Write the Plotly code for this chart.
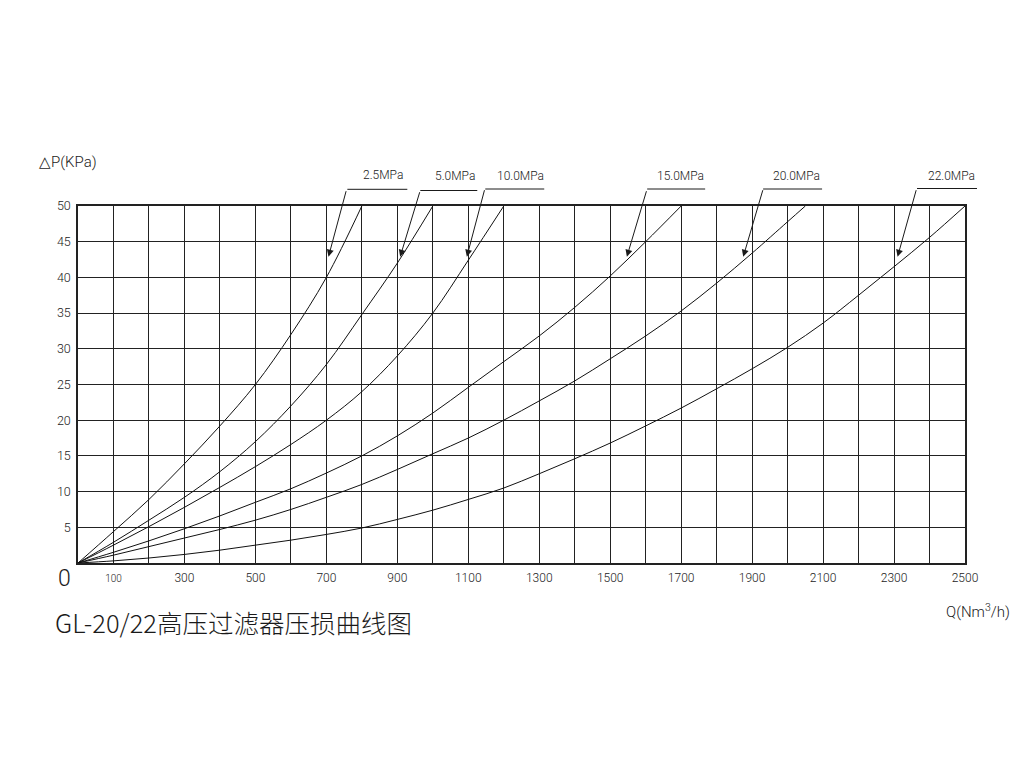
import plotly.graph_objects as go

# ---- data ----
series_names = ["2.5MPa", "5.0MPa", "10.0MPa", "15.0MPa", "20.0MPa", "22.0MPa"]

q_25 = [0, 100, 200, 300, 400, 500, 600, 700, 800]
dp_25 = [0, 4.4, 8.9, 13.9, 19.2, 25.0, 32.0, 40.0, 50.0]

q_50 = [0, 100, 200, 300, 400, 500, 600, 700, 800, 900, 1000]
dp_50 = [0, 2.9, 6.0, 9.2, 12.8, 17.0, 22.0, 27.8, 34.8, 42.0, 50.0]

q_100 = [0, 100, 200, 300, 400, 500, 600, 700, 800, 900, 1000, 1100, 1200]
dp_100 = [0, 2.5, 5.1, 7.8, 10.6, 13.5, 16.6, 20.0, 24.0, 29.0, 35.0, 42.4, 50.0]

q_150 = [0, 100, 200, 300, 400, 500, 600, 700, 800, 900, 1000, 1100, 1200,
         1300, 1400, 1500, 1600, 1700]
dp_150 = [0, 1.5, 3.1, 4.8, 6.6, 8.5, 10.4, 12.6, 15.0, 17.8, 21.0, 24.6, 28.2,
          31.8, 35.8, 40.2, 45.0, 50.0]

q_200 = [0, 100, 200, 300, 400, 500, 600, 700, 800, 900, 1000, 1100, 1200,
         1300, 1400, 1500, 1600, 1700, 1800, 1900, 2000, 2050]
dp_200 = [0, 1.1, 2.3, 3.5, 4.7, 6.0, 7.5, 9.2, 11.0, 13.1, 15.3, 17.5, 20.0,
          22.7, 25.5, 28.6, 31.8, 35.3, 39.2, 43.4, 47.8, 50.0]

q_220 = [0, 100, 200, 300, 400, 500, 600, 700, 800, 900, 1000, 1100, 1200,
         1300, 1400, 1500, 1600, 1700, 1800, 1900, 2000, 2100, 2200, 2300,
         2400, 2500]
dp_220 = [0, 0.3, 0.7, 1.2, 1.8, 2.5, 3.2, 4.0, 4.9, 6.1, 7.4, 8.9, 10.5,
          12.5, 14.6, 16.8, 19.2, 21.7, 24.4, 27.2, 30.2, 33.6, 37.5, 41.5,
          45.6, 50.0]

x_tick_vals = list(range(100, 2501, 100))
x_tick_labels = ["<span style='font-size:10px'>100</span>" if v == 100
                 else (str(v) if (v // 100) % 2 == 1 else " ") for v in x_tick_vals]
y_tick_vals = [5, 10, 15, 20, 25, 30, 35, 40, 45, 50]
y_tick_labels = [str(v) for v in y_tick_vals]

title_text = "GL-20/22高压过滤器压损曲线图"
y_title = "△P(KPa)"
x_title = "Q(Nm<sup>3</sup>/h)"

series = [(q_25, dp_25), (q_50, dp_50), (q_100, dp_100),
          (q_150, dp_150), (q_200, dp_200), (q_220, dp_220)]

# callout geometry (page pixels)
callouts = [
    dict(tip=(706, 42.9), ax=18, ay=-67, tx=383, ty=175, lx0=347, lx1=407, ly=189.3),
    dict(tip=(908, 42.9), ax=20, ay=-66, tx=455, ty=176, lx0=420, lx1=477, ly=190.5),
    dict(tip=(1096, 42.9), ax=18, ay=-68, tx=520, ty=176, lx0=485, lx1=544, ly=189),
    dict(tip=(1547, 42.9), ax=20, ay=-67, tx=680, ty=176, lx0=647, lx1=705, ly=189),
    dict(tip=(1875, 42.9), ax=20, ay=-68, tx=796, ty=176, lx0=763, lx1=822, ly=189),
    dict(tip=(2310, 42.9), ax=19, ay=-68, tx=951, ty=176, lx0=917, lx1=977, ly=188.5),
]

OFF = 8  # page body margin
W, H = 1016, 760
L, R, T, B = 77.5, 965, 206, 563   # plot area in page pixels


def px(xp):
    return (xp - L) / (R - L)


def py(yp):
    return (B - yp) / (B - T)


fig = go.Figure()
for name, (qs, dps) in zip(series_names, series):
    fig.add_trace(go.Scatter(x=qs, y=dps, mode="lines", name=name,
                             line=dict(color="#111", width=1, shape="spline", smoothing=1.0),
                             showlegend=False, hoverinfo="x+y"))

font_main = "Roboto, Liberation Sans, Arial, sans-serif"
ink = "#1a1a1a"
lw = 300

annotations = []
shapes = []
for name, c in zip(series_names, callouts):
    annotations.append(dict(x=c["tip"][0], y=c["tip"][1], xref="x", yref="y",
                            text="", showarrow=True, ax=c["ax"], ay=c["ay"],
                            arrowhead=2, arrowsize=1.4, arrowwidth=1,
                            arrowcolor=ink, standoff=0, startstandoff=0))
    annotations.append(dict(x=px(c["tx"]), y=py(c["ty"]), xref="paper", yref="paper",
                            text=name, showarrow=False, xanchor="center", yanchor="middle",
                            font=dict(family=font_main, size=12, color=ink, weight=lw)))
    shapes.append(dict(type="line", xref="paper", yref="paper",
                       x0=px(c["lx0"]), x1=px(c["lx1"]), y0=py(c["ly"]), y1=py(c["ly"]),
                       line=dict(color=ink, width=1)))

annotations += [
    dict(x=px(64), y=py(578), xref="paper", yref="paper", text="0", showarrow=False,
         xanchor="center", yanchor="middle",
         font=dict(family=font_main, size=23, color=ink, weight=lw)),
    dict(x=px(36), y=py(162), xref="paper", yref="paper", text=y_title, showarrow=False,
         xanchor="left", yanchor="middle",
         font=dict(family=font_main, size=15, color=ink, weight=lw)),
    dict(x=px(1012), y=py(611), xref="paper", yref="paper", text=x_title, showarrow=False,
         xanchor="right", yanchor="middle",
         font=dict(family=font_main, size=15, color=ink, weight=lw)),
    dict(x=px(52), y=py(621), xref="paper", yref="paper", text=title_text, showarrow=False,
         xanchor="left", yanchor="middle",
         font=dict(family="Noto Sans CJK SC, sans-serif", size=25.5, color=ink, weight=300)),
]

fig.update_layout(
    width=W, height=H,
    margin=dict(l=L - OFF, r=W - (R - OFF), t=T - OFF, b=H - (B - OFF), pad=0),
    paper_bgcolor="white", plot_bgcolor="white",
    annotations=annotations, shapes=shapes,
    font=dict(family=font_main, color=ink),
)
fig.update_xaxes(range=[0, 2500], tickvals=x_tick_vals, ticktext=x_tick_labels,
                 showgrid=True, gridcolor="#222", gridwidth=1.2,
                 showline=True, linecolor="#222", linewidth=1.5, mirror=True,
                 zeroline=False, ticks="outside", ticklen=3, tickcolor="white",
                 tickfont=dict(size=12, family=font_main, color=ink, weight=lw))
fig.update_yaxes(range=[0, 50], tickvals=y_tick_vals, ticktext=y_tick_labels,
                 showgrid=True, gridcolor="#222", gridwidth=1.2,
                 showline=True, linecolor="#222", linewidth=1.5, mirror=True,
                 zeroline=False, ticks="outside", ticklen=3, tickcolor="white",
                 tickfont=dict(size=12.5, family=font_main, color=ink, weight=lw))

fig.write_html("out.html")
